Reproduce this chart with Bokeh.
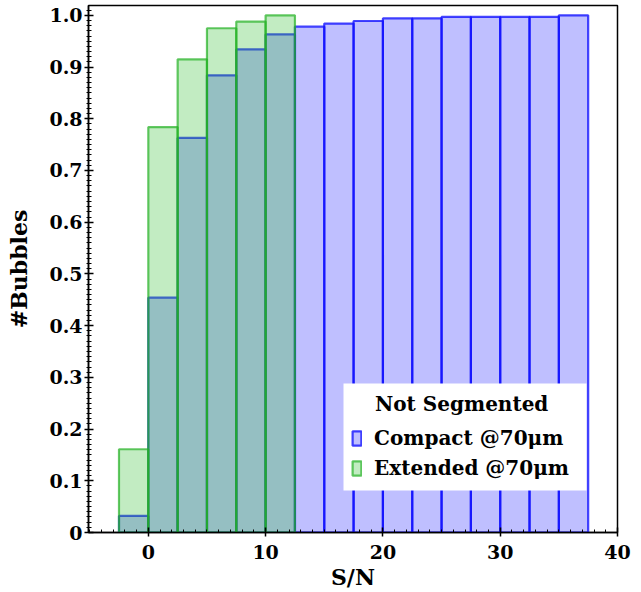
from bokeh.plotting import figure
from bokeh.models import (FixedTicker, Legend, LegendItem, Range1d,
                          CustomJSTickFormatter, BoxAnnotation)
from bokeh.embed import file_html
from bokeh.resources import INLINE

# ---- data ----
bin_left = [-2.5, 0.0, 2.5, 5.0, 7.5, 10.0, 12.5, 15.0, 17.5, 20.0,
            22.5, 25.0, 27.5, 30.0, 32.5, 35.0]
bin_width = 2.5
compact = [0.032, 0.454, 0.763, 0.884, 0.934, 0.963, 0.978, 0.984, 0.989,
           0.994, 0.994, 0.997, 0.997, 0.997, 0.997, 1.0]
ext_left = [-2.5, 0.0, 2.5, 5.0, 7.5, 10.0]
extended = [0.161, 0.784, 0.915, 0.975, 0.988, 1.0]

y_ticks = [0.0, 0.1, 0.2, 0.3, 0.4, 0.5, 0.6, 0.7, 0.8, 0.9, 1.0]
x_ticks = [0, 10, 20, 30, 40]

FONT = "DejaVu Serif"

p = figure(width=641, height=592, output_backend="svg", toolbar_location=None,
           x_range=Range1d(-5.1, 40), y_range=Range1d(0, 1.019),
           min_border_left=88, min_border_right=24, min_border_top=5,
           min_border_bottom=59)
p.grid.visible = False
p.outline_line_color = "black"
p.outline_line_width = 1.5
p.background_fill_color = "white"

c_right = [l + bin_width for l in bin_left]
e_right = [l + bin_width for l in ext_left]
r_c = p.quad(left=bin_left, right=c_right, bottom=0, top=compact,
             fill_color="#0000ff", fill_alpha=0.25,
             line_color="#1010ff", line_alpha=0.78, line_width=2.2)
r_e = p.quad(left=ext_left, right=e_right, bottom=0, top=extended,
             fill_color="#34c034", fill_alpha=0.3,
             line_color="#22b022", line_alpha=0.7, line_width=2.2)

for ax in (p.xaxis[0], p.yaxis[0]):
    ax.axis_line_color = "black"
    ax.axis_line_width = 1.5
    ax.major_tick_line_color = "black"
    ax.minor_tick_line_color = "black"
    ax.major_tick_line_width = 1.5
    ax.minor_tick_line_width = 1
    ax.major_label_text_font = FONT
    ax.major_label_text_font_style = "bold"
    ax.major_label_text_font_size = "19px"
    ax.major_label_text_color = "black"
    ax.axis_label_text_font = FONT
    ax.axis_label_text_font_style = "bold"
    ax.axis_label_text_font_size = "22px"
    ax.axis_label_text_color = "black"

p.xaxis.ticker = FixedTicker(ticks=x_ticks,
                             minor_ticks=[v for v in range(-5, 41)])
p.yaxis.ticker = FixedTicker(ticks=y_ticks,
                             minor_ticks=[i / 100 for i in range(0, 102)])
p.yaxis.formatter = CustomJSTickFormatter(
    code="return Math.abs(tick) < 1e-9 ? '0' : tick.toFixed(1);")

p.xaxis.major_tick_in = 5
p.xaxis.major_tick_out = 4
p.xaxis.minor_tick_in = 3
p.xaxis.minor_tick_out = 0
p.yaxis.major_tick_in = 5
p.yaxis.major_tick_out = 4
p.yaxis.minor_tick_in = 3
p.yaxis.minor_tick_out = 2
p.xaxis.major_label_standoff = 8
p.yaxis.major_label_standoff = 2
p.xaxis.axis_label = "S/N"
p.yaxis.axis_label = "#Bubbles"
p.xaxis.axis_label_standoff = 2
p.yaxis.axis_label_standoff = 14

# white legend panel (canvas pixels)
panel = BoxAnnotation(left=343, right=586, top=383, bottom=490,
                      left_units="canvas", right_units="canvas",
                      top_units="canvas", bottom_units="canvas",
                      fill_color="white", fill_alpha=1.0, line_color=None)
p.add_layout(panel)

legend = Legend(items=[LegendItem(label="Compact @70μm", renderers=[r_c]),
                       LegendItem(label="Extended @70μm", renderers=[r_e])],
                location=(263, 49), title="\u2003\u2009Not Segmented")
legend.title_text_font = FONT
legend.title_text_font_style = "bold"
legend.title_text_font_size = "20px"
legend.title_text_color = "black"
legend.title_standoff = 7
legend.label_text_font = FONT
legend.label_text_font_style = "bold"
legend.label_text_font_size = "20px"
legend.label_text_color = "black"
legend.glyph_width = 11
legend.glyph_height = 18
legend.label_standoff = 12
legend.label_height = 30
legend.spacing = 0
legend.padding = 10
legend.margin = 0
legend.border_line_color = None
legend.background_fill_alpha = 0.0
p.add_layout(legend, "center")

open("out.html", "w").write(file_html(p, INLINE))
